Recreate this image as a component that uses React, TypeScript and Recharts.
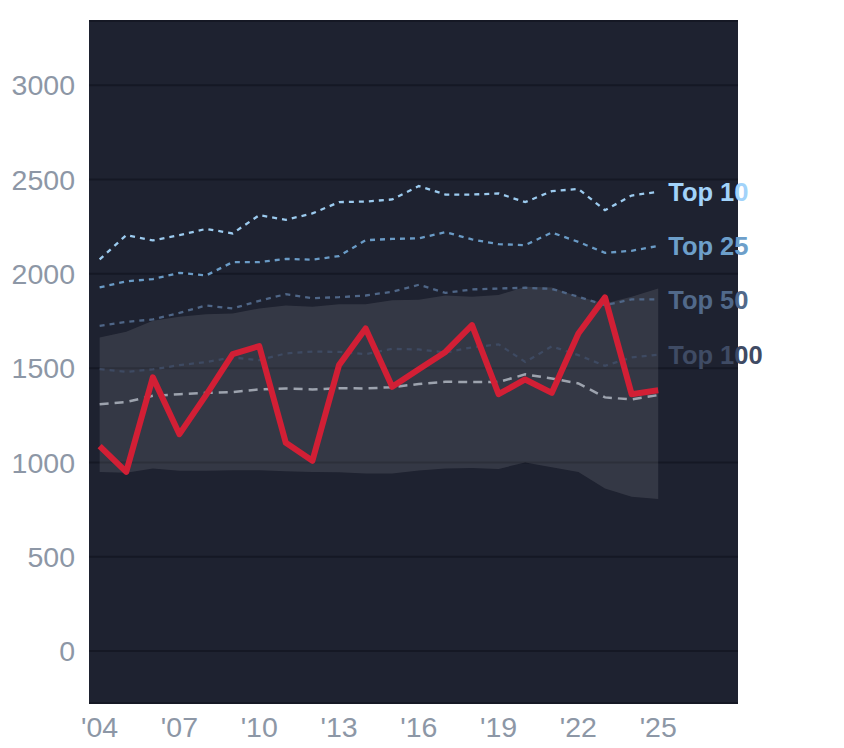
import React from "react";
import {
  Area,
  CartesianGrid,
  ComposedChart,
  Line,
  XAxis,
  YAxis,
} from "recharts";

// Years on the x axis
const YEARS = [
  2004, 2005, 2006, 2007, 2008, 2009, 2010, 2011, 2012, 2013, 2014, 2015,
  2016, 2017, 2018, 2019, 2020, 2021, 2022, 2023, 2024, 2025,
];

const X_TICKS = [2004, 2007, 2010, 2013, 2016, 2019, 2022, 2025];
const Y_TICKS = [0, 500, 1000, 1500, 2000, 2500, 3000];

// Rank thresholds
const TOP_10 = [
  2076, 2205, 2177, 2205, 2238, 2214, 2311, 2286, 2320, 2380, 2383, 2394,
  2465, 2420, 2420, 2426, 2380, 2438, 2450, 2337, 2415, 2435,
];
const TOP_25 = [
  1928, 1960, 1972, 2005, 1991, 2062, 2062, 2079, 2075, 2094, 2178, 2185,
  2188, 2221, 2182, 2157, 2152, 2219, 2169, 2111, 2122, 2148,
];
const TOP_50 = [
  1724, 1745, 1758, 1793, 1832, 1816, 1857, 1892, 1871, 1876, 1885, 1905,
  1942, 1899, 1917, 1922, 1926, 1920, 1878, 1834, 1864, 1864,
];
const TOP_100 = [
  1495, 1480, 1493, 1516, 1532, 1557, 1542, 1578, 1588, 1586, 1574, 1602,
  1599, 1583, 1610, 1626, 1533, 1615, 1569, 1512, 1557, 1571,
];
const MEDIAN = [
  1309, 1320, 1353, 1362, 1369, 1373, 1387, 1392, 1387, 1394, 1392, 1399,
  1416, 1428, 1426, 1426, 1467, 1445, 1419, 1345, 1334, 1357,
];

// Spread band (low / high)
const BAND_LOW = [
  950, 945, 968, 956, 956, 959, 959, 954, 949, 948, 942, 941, 958, 968, 970,
  966, 1000, 974, 950, 862, 818, 806,
];
const BAND_HIGH = [
  1663, 1693, 1751, 1772, 1786, 1790, 1816, 1832, 1825, 1839, 1839, 1860,
  1862, 1885, 1878, 1887, 1931, 1928, 1878, 1843, 1878, 1922,
];

// Highlighted series
const VALUE = [
  1087, 950, 1451, 1150, 1357, 1574, 1617, 1104, 1009, 1516, 1710, 1401,
  1494, 1586, 1728, 1362, 1440, 1369, 1684, 1875, 1362, 1383,
];

const data = YEARS.map((year, i) => ({
  year,
  top10: TOP_10[i],
  top25: TOP_25[i],
  top50: TOP_50[i],
  top100: TOP_100[i],
  median: MEDIAN[i],
  band: [BAND_LOW[i], BAND_HIGH[i]],
  value: VALUE[i],
}));

const LAST = YEARS.length - 1;

const endLabel = (text: string, color: string) => (props: any) => {
  const { x, y, index } = props;
  if (index !== LAST) return null;
  return (
    <text
      x={x + 10}
      y={y}
      dy="0.36em"
      fill={color}
      fontSize={25.5}
      fontWeight="bold"
      fontFamily="Liberation Sans, Arial, sans-serif"
    >
      {text}
    </text>
  );
};

const tickStyle = {
  fontSize: 28.5,
  fill: "#8d97a6",
  fontFamily: "Liberation Sans, Arial, sans-serif",
};

export default function App() {
  return (
    <div style={{ width: 828, height: 740 }}>
      <ComposedChart
        width={828}
        height={740}
        data={data}
        margin={{ top: 13, right: 98, left: 0, bottom: 0 }}
      >
        <CartesianGrid
          vertical={false}
          stroke="#151824"
          strokeWidth={2}
          fill="#1e2230"
          fillOpacity={1}
        />
        <XAxis
          dataKey="year"
          type="number"
          domain={[2003.6, 2028]}
          ticks={X_TICKS}
          tickFormatter={(v) => `'${String(v).slice(2)}`}
          axisLine={false}
          tickLine={false}
          tickSize={6}
          tickMargin={8}
          height={45}
          tick={tickStyle}
          allowDataOverflow
        />
        <YAxis
          type="number"
          domain={[-275, 3340]}
          ticks={Y_TICKS}
          axisLine={false}
          tickLine={false}
          tickSize={6}
          tickMargin={8}
          width={81}
          tick={tickStyle}
          allowDataOverflow
        />
        <Area
          type="linear"
          dataKey="band"
          stroke="none"
          fill="#ffffff"
          fillOpacity={0.1}
          isAnimationActive={false}
        />
        <Line
          type="linear"
          dataKey="top100"
          stroke="#3e4a62"
          strokeWidth={2.3}
          strokeDasharray="5 5"
          dot={false}
          isAnimationActive={false}
          label={endLabel("Top 100", "#3f4b64")}
        />
        <Line
          type="linear"
          dataKey="top50"
          stroke="#4f6687"
          strokeWidth={2.3}
          strokeDasharray="5 5"
          dot={false}
          isAnimationActive={false}
          label={endLabel("Top 50", "#51698a")}
        />
        <Line
          type="linear"
          dataKey="top25"
          stroke="#6a9bc6"
          strokeWidth={2.3}
          strokeDasharray="5 5"
          dot={false}
          isAnimationActive={false}
          label={endLabel("Top 25", "#6d9fca")}
        />
        <Line
          type="linear"
          dataKey="top10"
          stroke="#9ccbef"
          strokeWidth={2.3}
          strokeDasharray="5 5"
          dot={false}
          isAnimationActive={false}
          label={endLabel("Top 10", "#a2d3fa")}
        />
        <Line
          type="linear"
          dataKey="median"
          stroke="#9da3ae"
          strokeWidth={2.5}
          strokeDasharray="9 6"
          dot={false}
          isAnimationActive={false}
        />
        <Line
          type="linear"
          dataKey="value"
          stroke="#d21f35"
          strokeWidth={6}
          strokeLinejoin="round"
          dot={false}
          isAnimationActive={false}
        />
      </ComposedChart>
    </div>
  );
}
